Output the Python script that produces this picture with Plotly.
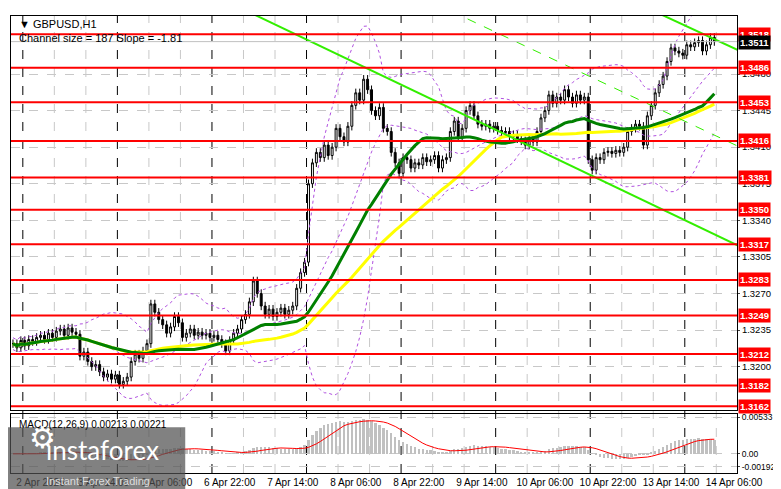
import numpy as np
import pandas as pd
import plotly.graph_objects as go
from plotly.subplots import make_subplots

# hourly closes, 2 Apr 21:00 -> 14 Apr 08:00
closes = [
    1.3222, 1.3218, 1.3225, 1.3220, 1.3226, 1.3224, 1.3228, 1.3230, 1.3226, 1.3232,
    1.3228, 1.3234, 1.3236, 1.3230, 1.3237, 1.3233, 1.3231, 1.3210, 1.3214, 1.3205,
    1.3200, 1.3202, 1.3195, 1.3190, 1.3193, 1.3188, 1.3192, 1.3183, 1.3186, 1.3190,
    1.3205, 1.3212, 1.3208, 1.3215, 1.3222, 1.3260, 1.3252, 1.3245, 1.3240, 1.3232,
    1.3238, 1.3248, 1.3242, 1.3228, 1.3232, 1.3236, 1.3230, 1.3233, 1.3230, 1.3232,
    1.3228, 1.3230, 1.3226, 1.3222, 1.3215, 1.3225, 1.3232, 1.3236, 1.3245, 1.3250,
    1.3262, 1.3282, 1.3270, 1.3258, 1.3250, 1.3255, 1.3248, 1.3252, 1.3256, 1.3250,
    1.3254, 1.3258, 1.3275, 1.3290, 1.3300, 1.3375, 1.3395, 1.3405, 1.3400, 1.3412,
    1.3402, 1.3410, 1.3428, 1.3420, 1.3415, 1.3430, 1.3450, 1.3462, 1.3455, 1.3475,
    1.3465, 1.3445, 1.3440, 1.3448, 1.3428, 1.3425, 1.3405, 1.3395, 1.3385, 1.3400,
    1.3398, 1.3390, 1.3395, 1.3393, 1.3400, 1.3396, 1.3398, 1.3402, 1.3390, 1.3398,
    1.3400, 1.3425, 1.3435, 1.3420, 1.3428, 1.3445, 1.3450, 1.3440, 1.3432, 1.3430,
    1.3432, 1.3428, 1.3430, 1.3426, 1.3424, 1.3425, 1.3420, 1.3422, 1.3418, 1.3416,
    1.3412, 1.3418, 1.3415, 1.3425, 1.3438, 1.3445, 1.3460, 1.3452, 1.3458, 1.3455,
    1.3465, 1.3458, 1.3452, 1.3460, 1.3455,
    1.3458, 1.3398, 1.3388, 1.3400, 1.3398, 1.3405, 1.3406, 1.3404, 1.3407, 1.3405,
    1.3410, 1.3425, 1.3428, 1.3432, 1.3430, 1.3412, 1.3440, 1.3450, 1.3462, 1.3470,
    1.3478, 1.3492, 1.3505, 1.3502, 1.3500, 1.3498, 1.3508, 1.3506, 1.3510, 1.3512,
    1.3502, 1.3508, 1.3515, 1.3511,
]
levels = [1.3518, 1.3486, 1.3453, 1.3416, 1.3381, 1.3350, 1.3317, 1.3283, 1.3249, 1.3212, 1.3182, 1.3162]
last_price = 1.3511
price_ticks = [1.3480, 1.3445, 1.3410, 1.3375, 1.3340, 1.3305, 1.3270, 1.3235, 1.3200]
time_labels = ["2 Apr 2026", "3 Apr 14:00", "6 Apr 06:00", "6 Apr 22:00", "7 Apr 14:00", "8 Apr 06:00",
               "8 Apr 22:00", "9 Apr 14:00", "10 Apr 06:00", "10 Apr 22:00", "13 Apr 14:00", "14 Apr 06:00"]
time_bars = [1, 17, 33, 49, 65, 81, 97, 113, 129, 145, 161, 177]
# regression channel lines (bar, price) endpoints
chan_low = ([59.5, 184.5], [1.3540, 1.3315])
chan_high = ([162.75, 184.5], [1.3540, 1.3502])
chan_mid = ([111.25, 184.5], [1.3540, 1.3410])

c = pd.Series(closes)
n = len(c)
x = np.arange(n)
o = c.shift(1).fillna(c.iloc[0])
h = np.maximum(o, c) + 0.0004
l = np.minimum(o, c) - 0.0004

ma_fast = c.rolling(30, min_periods=1).mean()
ma_slow = c.rolling(50, min_periods=1).mean()
mid = c.rolling(20, min_periods=1).mean()
sd = c.rolling(20, min_periods=2).std().bfill()
bb_up = mid + 2 * sd
bb_dn = mid - 2 * sd
macd = c.ewm(span=12, adjust=False).mean() - c.ewm(span=26, adjust=False).mean()
signal = macd.rolling(9, min_periods=1).mean()

fig = make_subplots(rows=2, cols=1, shared_xaxes=True, row_heights=[0.87, 0.13], vertical_spacing=0.009)

for yy in (bb_up, mid, bb_dn):
    fig.add_trace(go.Scatter(x=x, y=yy, mode="lines", line=dict(color="#b050e0", width=1, dash="dot")), row=1, col=1)
fig.add_trace(go.Scatter(x=x, y=ma_slow, mode="lines", line=dict(color="#ffff00", width=3)), row=1, col=1)
fig.add_trace(go.Scatter(x=x, y=ma_fast, mode="lines", line=dict(color="#008000", width=3)), row=1, col=1)
for (cx, cy), dash, w in ((chan_low, "solid", 2), (chan_high, "solid", 2), (chan_mid, "dash", 1)):
    fig.add_trace(go.Scatter(x=cx, y=cy, mode="lines", line=dict(color="#33ee00", width=w, dash=dash)), row=1, col=1)

fig.add_trace(go.Candlestick(
    x=x, open=o, high=h, low=l, close=c,
    increasing=dict(line=dict(color="black", width=1), fillcolor="white"),
    decreasing=dict(line=dict(color="black", width=1), fillcolor="black"),
    whiskerwidth=0), row=1, col=1)

fig.add_trace(go.Bar(x=x, y=macd, marker_color="#c0c0c0", marker_line_width=0, width=0.6), row=2, col=1)
fig.add_trace(go.Scatter(x=x, y=signal, mode="lines", line=dict(color="red", width=1)), row=2, col=1)

# grid verticals
for b in np.arange(2.5, 184, 8):
    major = (b - 2.5) % 24 == 0
    fig.add_shape(type="line", x0=b, x1=b, y0=0, y1=1, xref="x", yref="paper",
                  line=dict(color="black" if major else "#c8c8c8", width=1, dash="dash"), layer="below")

lab_font = dict(color="white", size=9.5, family="Liberation Sans")
for lv in levels:
    fig.add_hline(y=lv, line=dict(color="#ff0000", width=2), row=1, col=1)
    fig.add_annotation(x=1.0, xref="paper", y=lv, yref="y", text=f"<b>{lv:.4f}</b>", showarrow=False, xshift=1,
                       xanchor="left", bgcolor="#ff0000", font=lab_font, borderpad=1)
fig.add_hline(y=last_price, line=dict(color="#c0c0c0", width=1), row=1, col=1)
fig.add_annotation(x=1.0, xref="paper", y=last_price - 0.0001, yref="y", text=f"<b>{last_price:.4f}</b>", xshift=1,
                   showarrow=False, xanchor="left", bgcolor="black", font=lab_font, borderpad=1)

fig.add_annotation(x=0.008, xref="paper", y=1.0, yref="paper", yanchor="top", xanchor="left", showarrow=False,
                   text="▼ GBPUSD,H1<br>Channel size = 187 Slope = -1.81", align="left",
                   font=dict(size=11, color="black", family="Liberation Sans"))
fig.add_annotation(x=0.008, xref="paper", y=0.123, yref="paper", yanchor="top", xanchor="left", showarrow=False,
                   text="MACD(12,26,9) 0.00213 0.00221", font=dict(size=10, color="black", family="Liberation Sans"))

# watermark
fig.add_shape(type="rect", xref="paper", yref="paper", x0=-0.005, x1=0.24, y0=-0.054, y1=0.1,
              fillcolor="rgba(80,80,80,0.72)", line_width=0)
fig.add_annotation(x=0.045, xref="paper", y=0.09, yref="paper", xanchor="left", yanchor="top", showarrow=False,
                   text="instaforex", font=dict(size=26, color="white", family="Lato"))
fig.add_annotation(x=0.045, xref="paper", y=0.0, yref="paper", xanchor="left", yanchor="top", showarrow=False,
                   text="Instant Forex Trading", font=dict(size=11, color="#dddddd", family="Liberation Sans"))
fig.add_annotation(x=0.022, xref="paper", y=0.03, yref="paper", showarrow=False,
                   text="⚙", font=dict(size=30, color="white"))

axis_font = dict(size=9.5, color="black", family="Liberation Sans")
fig.update_xaxes(range=[-0.5, 183.75], showgrid=False, zeroline=False, showline=True, linecolor="black",
                 mirror=True, rangeslider_visible=False, automargin=False)
fig.update_xaxes(showticklabels=False, row=1, col=1)
fig.update_xaxes(tickvals=[b + 6 for b in time_bars], ticktext=time_labels, ticks="", tickangle=0,
                 tickfont=dict(size=10, color="black", family="Liberation Sans"), row=2, col=1)
fig.update_yaxes(side="right", showline=True, linecolor="black", mirror=True, zeroline=False, tickfont=axis_font,
                 ticks="outside", ticklen=2, automargin=False)
fig.update_yaxes(range=[1.31585, 1.35355], tickvals=price_ticks, ticktext=[f"{t:.4f}" for t in price_ticks],
                 showgrid=True, gridcolor="#c8c8c8", griddash="dash", row=1, col=1)
fig.update_yaxes(range=[-0.0028, 0.0058], tickvals=[0.00533, 0.0, -0.00192],
                 ticktext=["0.00533", "0.00", "-0.00192"], showgrid=True, gridcolor="#c8c8c8", griddash="dash",
                 tickfont=dict(size=8.5, color="black", family="Liberation Sans"), row=2, col=1)

fig.update_layout(width=781, height=489, margin=dict(l=3, r=52, t=8, b=24, autoexpand=False), showlegend=False,
                  paper_bgcolor="white", plot_bgcolor="white", bargap=0)
fig.write_html("out.html")
